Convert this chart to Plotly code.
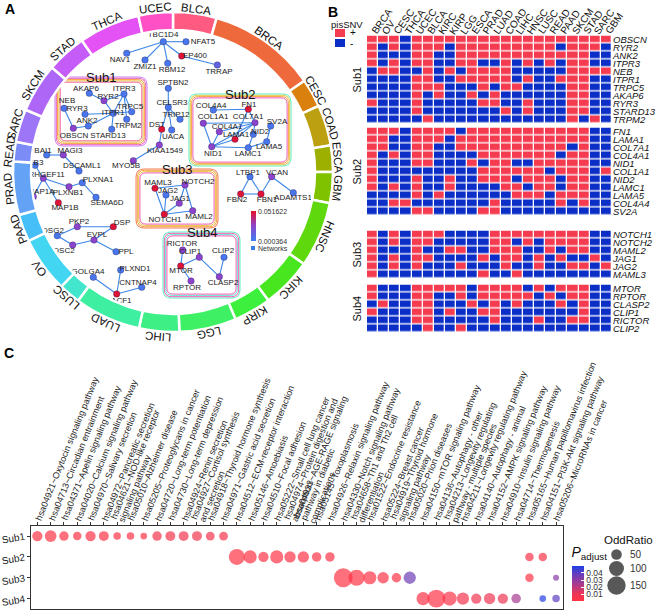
import math
import plotly.graph_objects as go

W, H = 658, 611
FONT = "Liberation Sans, Arial, sans-serif"

# ================= Panel A data =================
ring_cancers = ["BLCA", "BRCA", "CESC", "COAD", "ESCA", "GBM", "HNSC", "KIRC", "KIRP", "LGG", "LIHC",
                "LUAD", "LUSC", "OV", "PAAD", "PRAD", "READ", "SARC", "SKCM", "STAD", "THCA", "UCEC"]
ring_span = [15.8, 39.4, 10.4, 14.8, 9.6, 11.3, 23.8, 18.3, 13.6, 20.7, 14.6,
             24.1, 7.9, 20.2, 9.9, 19.4, 7.1, 12.0, 17.9, 14.5, 22.2, 12.5]
ring_colors = ["#FF5A82", "#EE6A3C", "#D9800E", "#BCA012", "#9DB000", "#7FC300", "#5FD80E", "#48E61E",
               "#3EF03E", "#3EF064", "#3EEF86", "#3EEFA2", "#42E6CC", "#42D6F2", "#46BEF8", "#64A2F6",
               "#7B8CF7", "#9C76F7", "#AE66F7", "#C65CF7", "#E452F6", "#FF50C6"]

node_names = ["TBC1D4", "NFAT5", "NAV1", "ZMIZ1", "RBM12", "EP400", "TRRAP",
              "AKAP6", "ITPR3", "RYR2", "NEB", "RYR3", "TRPC5", "ITPR1", "ANK2", "TRPM2", "OBSCN", "STARD13",
              "SPTBN2", "CELSR3", "TRIP12", "DST", "UACA", "KIAA1549", "MYO5B",
              "COL4A4", "FN1", "COL1A1", "COL7A1", "SV2A", "COL4A1", "NID2", "LAMA1", "LAMA5", "NID1", "LAMC1",
              "BAI1", "MAGI3", "PLXNB3", "DSCAML1", "ARHGEF11", "PLXNA1", "PLXNB1", "MAP1A", "MAP1B", "SEMA6D",
              "PKP2", "DSP", "DSG2", "EVPL", "DSC2", "PPL",
              "GOLGA4", "PLXND1", "CNTNAP4", "MACF1",
              "MAML3", "NOTCH2", "JAG2", "JAG1", "NOTCH1", "MAML2",
              "LTBP1", "VCAN", "FBN2", "FBN1", "ADAMTS1",
              "RICTOR", "CLIP1", "CLIP2", "MTOR", "CLASP2", "RPTOR"]
node_x = [163.3, 186.0, 126.7, 145.0, 167.7, 181.7, 217.3,
          89.3, 124.0, 104.0, 64.0, 85.0, 131.7, 113.3, 88.3, 126.7, 73.3, 111.7,
          168.3, 168.3, 180.0, 161.7, 171.7, 159.3, 133.3,
          213.3, 248.3, 203.3, 255.0, 270.7, 219.3, 253.3, 235.0, 266.7, 211.7, 248.3,
          46.7, 63.3, 35.0, 79.0, 43.3, 82.3, 69.0, 33.3, 58.3, 96.0,
          77.3, 113.3, 57.3, 94.0, 72.7, 116.0,
          93.3, 120.7, 141.7, 116.7,
          155.0, 185.0, 166.0, 179.3, 164.3, 192.7,
          250.0, 271.7, 240.7, 261.0, 293.3,
          182.7, 199.3, 224.0, 180.7, 219.3, 191.0]
node_y = [41.7, 41.7, 53.3, 60.0, 63.3, 56.0, 65.0,
          93.3, 94.0, 100.7, 108.3, 114.3, 111.7, 113.3, 126.0, 119.3, 128.3, 129.3,
          88.3, 107.3, 119.3, 129.3, 130.0, 145.0, 160.7,
          110.0, 109.3, 123.3, 122.7, 126.0, 131.7, 134.3, 139.3, 141.7, 146.7, 147.7,
          155.0, 155.0, 165.3, 171.0, 178.3, 182.7, 186.7, 196.7, 202.7, 197.3,
          226.7, 226.7, 235.7, 240.0, 245.0, 251.7,
          277.3, 270.0, 287.3, 294.0,
          188.3, 185.0, 195.0, 203.3, 214.3, 210.7,
          176.7, 176.7, 194.0, 194.0, 192.7,
          250.0, 257.3, 257.3, 266.0, 276.7, 281.0]
label_x = [163, 203, 120, 145, 172, 195, 219,
           86, 124, 108, 67, 77, 130, 113, 87, 128, 74, 108,
           173, 172, 176, 157, 173, 165, 126,
           211, 249, 213, 248, 277, 227, 260, 236, 269, 213, 248,
           43, 70, 28, 82, 44, 98, 68, 41, 65, 107,
           79, 122, 53, 97, 64, 126,
           88, 135, 138, 118,
           158, 198, 168, 180, 165, 199,
           248, 277, 237, 267, 293,
           182, 190, 223, 181, 223, 187]
label_y = [35, 42, 60, 67, 70, 56, 71.5,
           88.5, 88.5, 96.5, 101, 108.5, 107, 113, 120.5, 126, 136, 136,
           82.5, 103, 115, 125, 136.5, 150.5, 165.5,
           106, 104.5, 117, 117, 122, 127, 131.5, 135, 146.5, 153.5, 154,
           151, 151, 163, 166, 174.5, 180, 192.5, 192, 208, 203,
           221.5, 222.5, 230.5, 235, 251, 251.5,
           271.5, 269, 282.5, 300.5,
           182.5, 181.5, 191, 199, 220, 216.5,
           172.5, 172.5, 199.5, 199.5, 197.5,
           244, 251.5, 250.5, 270.5, 282.5, 287.5]
node_p = [0.004, 0.004, 0.004, 0.004, 0.004, 0.050, 0.012,
          0.004, 0.004, 0.026, 0.004, 0.004, 0.004, 0.004, 0.004, 0.004, 0.026, 0.004,
          0.004, 0.004, 0.004, 0.050, 0.004, 0.026, 0.026,
          0.004, 0.050, 0.026, 0.026, 0.004, 0.026, 0.004, 0.050, 0.004, 0.026, 0.004,
          0.004, 0.026, 0.004, 0.004, 0.026, 0.004, 0.026, 0.026, 0.050, 0.004,
          0.026, 0.050, 0.004, 0.026, 0.026, 0.004,
          0.004, 0.004, 0.004, 0.050,
          0.050, 0.026, 0.004, 0.026, 0.050, 0.026,
          0.004, 0.026, 0.050, 0.050, 0.004,
          0.026, 0.026, 0.004, 0.050, 0.026, 0.026]
edges = [("TBC1D4", "NFAT5"), ("TBC1D4", "NAV1"), ("TBC1D4", "ZMIZ1"), ("TBC1D4", "RBM12"),
         ("TBC1D4", "EP400"), ("EP400", "TRRAP"),
         ("AKAP6", "RYR2"), ("RYR2", "ITPR3"), ("RYR2", "ITPR1"), ("ITPR3", "TRPC5"), ("ITPR3", "TRPM2"),
         ("ITPR3", "ITPR1"), ("ITPR1", "RYR3"), ("ITPR1", "TRPC5"), ("ITPR1", "STARD13"), ("ITPR1", "ANK2"),
         ("NEB", "OBSCN"), ("OBSCN", "ANK2"),
         ("SPTBN2", "CELSR3"), ("CELSR3", "TRIP12"), ("CELSR3", "DST"), ("CELSR3", "UACA"),
         ("DST", "KIAA1549"), ("KIAA1549", "MYO5B"),
         ("COL4A4", "FN1"), ("FN1", "COL7A1"), ("FN1", "LAMA1"), ("COL1A1", "COL7A1"), ("COL1A1", "NID1"),
         ("COL4A1", "COL7A1"), ("COL7A1", "LAMA1"), ("COL7A1", "NID2"), ("COL7A1", "NID1"), ("LAMA1", "NID1"),
         ("NID2", "LAMC1"), ("LAMA5", "SV2A"), ("LAMA5", "LAMC1"), ("NID1", "LAMC1"), ("COL4A1", "NID1"),
         ("BAI1", "MAGI3"), ("MAGI3", "DSCAML1"), ("PLXNB3", "ARHGEF11"), ("ARHGEF11", "PLXNB1"),
         ("ARHGEF11", "MAP1A"), ("ARHGEF11", "MAP1B"), ("PLXNB1", "PLXNA1"), ("PLXNA1", "SEMA6D"),
         ("DSG2", "PKP2"), ("PKP2", "DSP"), ("DSG2", "DSC2"), ("DSC2", "EVPL"), ("EVPL", "DSP"), ("EVPL", "PPL"),
         ("GOLGA4", "MACF1"), ("PLXND1", "MACF1"), ("CNTNAP4", "MACF1"),
         ("MAML3", "NOTCH1"), ("MAML3", "NOTCH2"), ("NOTCH2", "JAG1"), ("NOTCH2", "MAML2"),
         ("JAG2", "NOTCH1"), ("JAG1", "NOTCH1"), ("NOTCH1", "MAML2"),
         ("LTBP1", "FBN2"), ("LTBP1", "FBN1"), ("FBN2", "FBN1"), ("VCAN", "FBN1"), ("VCAN", "ADAMTS1"),
         ("RICTOR", "MTOR"), ("MTOR", "CLIP1"), ("CLIP1", "CLASP2"), ("CLIP2", "CLASP2"), ("MTOR", "RPTOR")]

sub_names = ["Sub1", "Sub2", "Sub3", "Sub4"]

# ================= Panel B data =================
heat_cancers = ["BRCA", "OV", "CESC", "THCA", "UCEC", "BLCA", "KIRC", "KIRP", "LGG", "ESCA", "PRAD",
                "LUAD", "COAD", "LIHC", "HNSC", "LUSC", "READ", "PAAD", "SKCM", "STAD", "SARC", "GBM"]
sub1_genes = ["OBSCN", "RYR2", "ANK2", "ITPR3", "NEB", "ITPR1", "TRPC5", "AKAP6", "RYR3", "STARD13", "TRPM2"]
sub1_snv = [
    [1, 1, 1, 0, 1, 1, 1, 1, 1, 1, 1, 1, 1, 1, 1, 1, 1, 1, 1, 1, 1, 1],
    [1, 0, 1, 0, 1, 1, 1, 0, 1, 1, 1, 1, 1, 1, 1, 1, 1, 0, 1, 1, 1, 0],
    [1, 0, 0, 0, 1, 1, 0, 0, 1, 1, 1, 1, 1, 1, 1, 1, 1, 1, 1, 1, 0, 0],
    [1, 0, 1, 0, 1, 1, 0, 0, 1, 1, 0, 0, 1, 0, 1, 0, 1, 0, 1, 1, 0, 0],
    [0, 1, 1, 0, 0, 1, 0, 1, 0, 1, 1, 1, 1, 0, 0, 0, 0, 0, 1, 1, 1, 1],
    [0, 0, 0, 0, 1, 1, 0, 0, 1, 1, 1, 1, 1, 0, 1, 0, 0, 1, 1, 1, 0, 0],
    [0, 0, 0, 0, 1, 1, 1, 0, 0, 0, 1, 0, 1, 1, 0, 0, 0, 0, 1, 1, 0, 0],
    [0, 0, 0, 0, 1, 0, 1, 0, 0, 1, 0, 1, 0, 0, 0, 0, 0, 0, 1, 1, 0, 0],
    [1, 0, 0, 0, 1, 0, 0, 0, 0, 0, 1, 1, 0, 0, 1, 0, 0, 0, 1, 1, 0, 0],
    [0, 0, 0, 0, 1, 0, 0, 0, 0, 0, 0, 0, 1, 0, 1, 0, 0, 0, 1, 1, 0, 0],
    [0, 0, 0, 0, 0, 1, 0, 0, 0, 0, 0, 0, 0, 0, 0, 0, 0, 0, 1, 0, 1, 0]]
sub2_genes = ["FN1", "LAMA1", "COL7A1", "COL4A1", "NID1", "COL1A1", "NID2", "LAMC1", "LAMA5", "COL4A4", "SV2A"]
sub2_snv = [
    [1, 1, 1, 0, 1, 1, 1, 1, 0, 1, 1, 1, 1, 1, 1, 1, 1, 1, 1, 1, 0, 0],
    [1, 1, 0, 0, 1, 1, 1, 0, 1, 1, 1, 1, 1, 1, 1, 1, 1, 1, 1, 1, 0, 0],
    [1, 1, 0, 0, 1, 1, 0, 0, 1, 1, 1, 1, 1, 1, 1, 1, 1, 1, 0, 1, 0, 0],
    [1, 0, 1, 0, 1, 1, 0, 0, 0, 0, 1, 1, 1, 1, 1, 1, 1, 0, 1, 1, 0, 0],
    [1, 0, 0, 0, 1, 1, 0, 0, 0, 1, 0, 1, 1, 0, 0, 1, 1, 1, 1, 1, 0, 0],
    [1, 0, 0, 0, 0, 0, 0, 0, 0, 0, 1, 1, 1, 1, 1, 1, 0, 1, 1, 1, 0, 1],
    [1, 0, 0, 0, 1, 0, 0, 1, 0, 0, 1, 1, 1, 0, 1, 1, 1, 0, 1, 1, 0, 0],
    [1, 0, 1, 0, 1, 0, 0, 1, 0, 0, 0, 0, 1, 1, 0, 1, 1, 0, 1, 1, 0, 0],
    [0, 0, 0, 0, 1, 0, 1, 0, 0, 0, 0, 0, 0, 1, 1, 1, 0, 1, 1, 1, 0, 0],
    [0, 0, 1, 1, 0, 0, 0, 0, 0, 0, 0, 1, 0, 0, 0, 0, 0, 1, 0, 1, 0, 0],
    [0, 0, 0, 0, 1, 1, 0, 0, 0, 0, 1, 1, 0, 0, 0, 0, 0, 0, 0, 0, 0, 0]]
sub3_genes = ["NOTCH1", "NOTCH2", "MAML2", "JAG1", "JAG2", "MAML3"]
sub3_snv = [
    [1, 0, 1, 0, 1, 1, 1, 0, 0, 0, 0, 1, 1, 1, 1, 1, 1, 1, 1, 1, 0, 0],
    [1, 0, 1, 0, 1, 1, 0, 0, 0, 0, 0, 1, 1, 0, 1, 0, 1, 1, 1, 1, 0, 0],
    [1, 0, 0, 0, 1, 0, 0, 1, 1, 0, 0, 1, 1, 1, 0, 0, 1, 0, 1, 1, 0, 0],
    [1, 0, 1, 0, 1, 1, 0, 0, 0, 0, 1, 0, 1, 1, 0, 1, 0, 1, 0, 0, 1, 0],
    [1, 0, 1, 0, 1, 0, 0, 0, 1, 0, 0, 0, 1, 0, 0, 1, 0, 0, 1, 1, 0, 1],
    [1, 0, 0, 0, 0, 0, 0, 0, 0, 0, 1, 0, 0, 1, 0, 0, 0, 0, 0, 0, 0, 0]]
sub4_genes = ["MTOR", "RPTOR", "CLASP2", "CLIP1", "RICTOR", "CLIP2"]
sub4_snv = [
    [1, 0, 0, 0, 1, 1, 1, 1, 1, 0, 1, 1, 1, 1, 0, 1, 0, 1, 1, 1, 0, 0],
    [1, 0, 0, 0, 1, 1, 0, 0, 1, 0, 1, 1, 1, 1, 1, 0, 1, 0, 1, 1, 0, 0],
    [0, 1, 0, 0, 1, 1, 0, 0, 0, 1, 0, 1, 0, 1, 0, 0, 0, 1, 0, 1, 0, 0],
    [1, 0, 0, 0, 1, 1, 0, 1, 0, 0, 1, 1, 0, 0, 0, 0, 0, 0, 0, 1, 0, 0],
    [0, 0, 0, 0, 1, 1, 0, 0, 0, 0, 0, 1, 0, 0, 0, 1, 0, 0, 1, 1, 0, 0],
    [0, 0, 0, 0, 0, 1, 0, 0, 1, 0, 0, 0, 0, 0, 0, 0, 0, 0, 0, 0, 0, 0]]

# ================= Panel C data =================
pathways = ["hsa04921~Oxytocin signaling pathway", "hsa04713~Circadian entrainment",
            "hsa04371~Apelin signaling pathway", "hsa04020~Calcium signaling pathway",
            "hsa04970~Salivary secretion", "hsa04972~Pancreatic secretion",
            "hsa04621~NOD-like receptor<br>signaling pathway", "hsa05010~Alzheimer disease",
            "hsa05205~Proteoglycans in cancer", "hsa04720~Long-term potentiation",
            "hsa04730~Long-term depression", "hsa04924~Renin secretion",
            "hsa04927~Cortisol synthesis<br>and secretion", "hsa04918~Thyroid hormone synthesis",
            "hsa04971~Gastric acid secretion", "hsa04512~ECM-receptor interaction",
            "hsa05146~Amoebiasis", "hsa04510~Focal adhesion", "hsa05222~Small cell lung cancer",
            "hsa04974~Protein digestion and<br>absorption",
            "hsa04933~AGE-RAGE signaling<br>pathway in diabetic<br>complications",
            "hsa05145~Toxoplasmosis", "hsa04926~Relaxin signaling pathway",
            "hsa04330~Notch signaling pathway", "hsa04658~Th1 and Th2 cell<br>differentiation",
            "hsa01522~Endocrine resistance", "hsa05224~Breast cancer",
            "hsa04919~Thyroid hormone<br>signaling pathway", "hsa05020~Prion diseases",
            "hsa04150~mTOR signaling pathway", "hsa04136~Autophagy - other",
            "hsa04213~Longevity regulating<br>pathway - multiple species",
            "hsa04211~Longevity regulating pathway", "hsa04140~Autophagy - animal",
            "hsa04152~AMPK signaling pathway", "hsa04910~Insulin signaling pathway",
            "hsa04714~Thermogenesis", "hsa05165~Human papillomavirus infection",
            "hsa04151~PI3K-Akt signaling pathway", "hsa05206~MicroRNAs in cancer"]
c_sub1_idx = [0, 1, 2, 3, 4, 5, 6, 7, 8, 9, 10, 11, 12, 13, 14]
c_sub1_or = [47, 61, 40, 32, 47, 44, 25, 25, 20, 40, 44, 44, 44, 35, 35]
c_sub1_p = [0.0008, 0.0008, 0.001, 0.001, 0.001, 0.0012, 0.0015, 0.0015, 0.0015,
            0.0055, 0.006, 0.0065, 0.0065, 0.006, 0.006]
c_sub2_idx = [15, 16, 17, 18, 19, 20, 21, 22, 37, 38]
c_sub2_or = [114, 77, 47, 77, 57, 57, 40, 40, 32, 32]
c_sub2_p = [0.0006, 0.0008, 0.001, 0.001, 0.001, 0.0012, 0.0015, 0.0015, 0.0015, 0.0015]
c_sub3_idx = [23, 24, 25, 26, 27, 28, 37, 39]
c_sub3_or = [157, 114, 77, 57, 40, 67, 32, 10]
c_sub3_p = [0.0005, 0.0008, 0.001, 0.0015, 0.002, 0.036, 0.002, 0.030]
c_sub4_idx = [29, 30, 31, 32, 33, 34, 35, 36, 38, 39]
c_sub4_or = [77, 143, 89, 67, 47, 57, 47, 40, 20, 25]
c_sub4_p = [0.002, 0.001, 0.003, 0.006, 0.008, 0.008, 0.0085, 0.024, 0.048, 0.039]
size_legend_vals = [50, 100, 150]

# ================= helpers =================
def py(p):
    return 1 - p / H

def rrect(x0, y0, x1, y1, r):
    return (f"M{x0 + r},{y0} L{x1 - r},{y0} Q{x1},{y0} {x1},{y0 + r} L{x1},{y1 - r} "
            f"Q{x1},{y1} {x1 - r},{y1} L{x0 + r},{y1} Q{x0},{y1} {x0},{y1 - r} "
            f"L{x0},{y0 + r} Q{x0},{y0} {x0 + r},{y0} Z")

fig = go.Figure()
annotations = []
shapes = []

# ---------- Panel A: ring ----------
theta_c = []
acc = 0.0
for s in ring_span:
    theta_c.append(acc + s / 2)
    acc += s
fig.add_trace(go.Barpolar(theta=theta_c, width=ring_span, r=[18] * len(ring_span),
                          base=[142] * len(ring_span), subplot="polar",
                          marker=dict(color=ring_colors, line=dict(color="white", width=2.5)),
                          hoverinfo="skip", showlegend=False))
CX, CY, RL = 173, 172, 165
for name, tc in zip(ring_cancers, theta_c):
    rad = math.radians(tc)
    annotations.append(dict(x=CX + RL * math.sin(rad), y=CY - RL * math.cos(rad), xref="x", yref="y",
                            text=name, textangle=(tc if tc <= 180 else tc - 360), showarrow=False,
                            font=dict(size=11.5, color="#111", family=FONT), xanchor="center", yanchor="middle"))

# ---------- Panel A: sub boxes ----------
box_defs = [("Sub1", (55, 77, 147, 146), ["#C77DF3", "#F15BB5", "#F4A340", "#E8C547", "#F0649B"]),
            ("Sub2", (189, 94, 291, 166), ["#56F0C0", "#E8C547", "#F4A340", "#F15BB5"]),
            ("Sub3", (136, 169, 218, 228), ["#F07850", "#F4A340", "#E8C547", "#F15BB5"]),
            ("Sub4", (163, 232, 240, 298), ["#56F0C0", "#F15BB5", "#66E8D0", "#F15BB5"])]
for title, (x0, y0, x1, y1), cols in box_defs:
    for k, c in enumerate(cols):
        d = k * 1.3
        shapes.append(dict(type="path", path=rrect(x0 + d, y0 + d, x1 - d, y1 - d, 8 - d * 0.5),
                           xref="x", yref="y", line=dict(color=c, width=1), layer="below"))
    annotations.append(dict(x=(x0 + x1) / 2, y=y0 + 0.5, xref="x", yref="y", text=title, showarrow=False,
                            font=dict(size=13, color="#111", family=FONT), xanchor="center", yanchor="middle"))

# ---------- Panel A: network ----------
pos = {n: (x, y) for n, x, y in zip(node_names, node_x, node_y)}
ex, ey = [], []
for a, b in edges:
    ex += [pos[a][0], pos[b][0], None]
    ey += [pos[a][1], pos[b][1], None]
fig.add_trace(go.Scatter(x=ex, y=ey, mode="lines", line=dict(color="#3C86E6", width=1.1),
                         xaxis="x", yaxis="y", hoverinfo="skip", showlegend=False))
node_scale = [[0, "#3F7EF2"], [0.5, "#8C44CC"], [1, "#E5102C"]]
fig.add_trace(go.Scatter(x=node_x, y=node_y, mode="markers", xaxis="x", yaxis="y", hoverinfo="skip",
                         showlegend=False,
                         marker=dict(size=6.5, color=node_p, colorscale=node_scale, cmin=0.000364,
                                     cmax=0.051622, line=dict(color="rgba(30,30,80,0.55)", width=0.6),
                                     colorbar=dict(x=251.5 / W, xanchor="left", y=py(226.5), yanchor="middle",
                                                   lenmode="pixels", len=30, thickness=5, xpad=0, ypad=0,
                                                   outlinewidth=0, ticks="", tickvals=[0.000364, 0.051622],
                                                   ticktext=["0.000364", "0.051622"],
                                                   tickfont=dict(size=7, color="#333", family=FONT)))))
fig.add_trace(go.Scatter(x=label_x, y=label_y, mode="text", text=node_names, xaxis="x", yaxis="y",
                         textfont=dict(size=8, color="#222", family=FONT), hoverinfo="skip", showlegend=False))
shapes.append(dict(type="rect", x0=251, x1=255, y0=246, y1=250, xref="x", yref="y",
                   fillcolor="#3A7BE8", line=dict(width=0)))
annotations.append(dict(x=256, y=248, xref="x", yref="y", text="Networks", showarrow=False, xanchor="left",
                        yanchor="middle", font=dict(size=7, color="#333", family=FONT)))

# ---------- Panel B: heatmaps ----------
heat_scale = [[0, "#0B2EC7"], [0.5, "#0B2EC7"], [0.5, "#F53B50"], [1, "#F53B50"]]
heat_sets = [(sub1_genes, sub1_snv, (35.5, 123.5)), (sub2_genes, sub2_snv, (127.5, 215.5)),
             (sub3_genes, sub3_snv, (230.5, 278.5)), (sub4_genes, sub4_snv, (284.5, 332.5))]
for i, (genes, mat, (t, b)) in enumerate(heat_sets):
    yname = "y" + str(i + 2)
    fig.add_trace(go.Heatmap(z=mat, x=heat_cancers, y=genes, xaxis="x2", yaxis=yname, colorscale=heat_scale,
                             zmin=0, zmax=1, showscale=False, xgap=1.3, ygap=1.3, hoverinfo="skip"))
    fig.layout["yaxis" + str(i + 2)] = dict(domain=[py(b), py(t)], anchor="x2", side="right",
                                            autorange="reversed", showgrid=False, zeroline=False, ticks="",
                                            automargin=False, tickmode="array", tickvals=genes, ticktext=genes,
                                            tickfont=dict(size=9.5, color="#111", family=FONT, style="italic"))
    annotations.append(dict(x=356, y=(t + b) / 2, xref="x", yref="y", text=sub_names[i], textangle=-90,
                            showarrow=False, font=dict(size=11, color="#111", family=FONT)))

annotations.append(dict(x=329, y=24, xref="x", yref="y", text="pisSNV", showarrow=False, xanchor="left",
                        font=dict(size=9.5, color="#111", family=FONT)))
shapes.append(dict(type="rect", x0=335, x1=345, y0=29, y1=37, xref="x", yref="y",
                   fillcolor="#F53B50", line=dict(width=0)))
shapes.append(dict(type="rect", x0=335, x1=345, y0=39, y1=47, xref="x", yref="y",
                   fillcolor="#0B2EC7", line=dict(width=0)))
annotations.append(dict(x=348, y=32, xref="x", yref="y", text="+", showarrow=False, xanchor="left",
                        font=dict(size=10, color="#111", family=FONT)))
annotations.append(dict(x=348, y=43, xref="x", yref="y", text="-", showarrow=False, xanchor="left",
                        font=dict(size=10, color="#111", family=FONT)))

# ---------- Panel C: dot plot ----------
dot_x, dot_y, dot_or, dot_p = [], [], [], []
for sname, idx, ors, ps in [("Sub1", c_sub1_idx, c_sub1_or, c_sub1_p), ("Sub2", c_sub2_idx, c_sub2_or, c_sub2_p),
                            ("Sub3", c_sub3_idx, c_sub3_or, c_sub3_p), ("Sub4", c_sub4_idx, c_sub4_or, c_sub4_p)]:
    for j, o, p in zip(idx, ors, ps):
        dot_x.append(pathways[j])
        dot_y.append(sname)
        dot_or.append(o)
        dot_p.append(p)
SIZEREF = 0.89
p_scale = [[0, "#FF3344"], [0.2, "#EE3656"], [0.5, "#A33A92"], [0.75, "#6A3DBA"], [1, "#1F40E6"]]
fig.add_trace(go.Scatter(x=dot_x, y=dot_y, mode="markers", xaxis="x3", yaxis="y6", hoverinfo="skip",
                         showlegend=False,
                         marker=dict(size=dot_or, sizemode="area", sizeref=SIZEREF, sizemin=3, color=dot_p,
                                     colorscale=p_scale, cmin=0, cmax=0.049, line=dict(width=0),
                                     colorbar=dict(x=571.5 / W, xanchor="left", y=py(572.5), yanchor="middle",
                                                   lenmode="pixels", len=58, thickness=12, xpad=0, ypad=0,
                                                   outlinewidth=0, tickvals=[0.01, 0.02, 0.03, 0.04],
                                                   ticks="inside", tickcolor="white", ticklen=3,
                                                   tickfont=dict(size=8.5, color="#333", family=FONT),
                                                   title=dict(text="<i>P</i><sub>adjust</sub>", side="top",
                                                              font=dict(size=14, color="#111", family=FONT))))))
# rotated category labels above panel C (one annotation per line, tight line spacing)
C_TOP = 525.7
ANG = 68.0
LH1 = 11.5     # rendered height of one annotation line
LS = 8.6       # spacing between wrapped lines
ca, sa = math.cos(math.radians(ANG)), math.sin(math.radians(ANG))
for i, lab in enumerate(pathways):
    parts = lab.split("<br>")
    n = len(parts)
    for k, part in enumerate(parts):
        off = (k - (n - 1) / 2) * LS
        annotations.append(dict(x=i, y=py(C_TOP - 4.5), xref="x3", yref="paper", text=part, textangle=-ANG,
                                showarrow=False, xanchor="left", yanchor="bottom", borderpad=0,
                                xshift=-sa * LH1 / 2 + off * sa, yshift=-ca * LH1 / 2 - off * ca,
                                font=dict(size=9, color="#222", family=FONT)))
# rotated column labels above panel B heatmap
B_TOP = 35.5
ANGB = 55.0
LHB = 12.0
cb, sb = math.cos(math.radians(ANGB)), math.sin(math.radians(ANGB))
for i, lab in enumerate(heat_cancers):
    annotations.append(dict(x=i, y=py(B_TOP - 1.5), xref="x2", yref="paper", text=lab, textangle=-ANGB,
                            showarrow=False, xanchor="left", yanchor="bottom", borderpad=0,
                            xshift=-sb * LHB / 2, yshift=-cb * LHB / 2,
                            font=dict(size=10, color="#111", family=FONT)))
# size legend
leg_y = [554.5, 568.5, 585.5]
fig.add_trace(go.Scatter(x=[616.5] * 3, y=leg_y, mode="markers", xaxis="x", yaxis="y", hoverinfo="skip",
                         showlegend=False,
                         marker=dict(size=size_legend_vals, sizemode="area", sizeref=SIZEREF, color="#111",
                                     line=dict(width=0))))
for v, yy in zip(size_legend_vals, leg_y):
    annotations.append(dict(x=628, y=yy, xref="x", yref="y", text=str(v), showarrow=False, xanchor="left",
                            font=dict(size=10, color="#333", family=FONT)))
annotations.append(dict(x=628, y=540, xref="x", yref="y", text="OddRatio", showarrow=False,
                        font=dict(size=11.5, color="#111", family=FONT)))

# panel letters
for t, xx, yy in [("A", 10, 9), ("B", 333, 12), ("C", 9, 353)]:
    annotations.append(dict(x=xx, y=yy, xref="x", yref="y", text="<b>" + t + "</b>", showarrow=False,
                            font=dict(size=14, color="#000", family=FONT)))

fig.update_layout(
    width=W, height=H, margin=dict(l=0, r=0, t=0, b=0, autoexpand=False), paper_bgcolor="white",
    plot_bgcolor="rgba(0,0,0,0)", showlegend=False, font=dict(family=FONT),
    xaxis=dict(domain=[0, 1], range=[0, W], visible=False, fixedrange=True, automargin=False),
    yaxis=dict(domain=[0, 1], range=[H, 0], visible=False, fixedrange=True, automargin=False),
    xaxis2=dict(domain=[367 / W, 612 / W], anchor="y2", side="top", showgrid=False, showticklabels=False,
                zeroline=False, ticks="", categoryorder="array", categoryarray=heat_cancers, automargin=False,
                range=[-0.5, 21.5]),
    xaxis3=dict(domain=[30.7 / W, 562.7 / W], anchor="y6", side="top", showgrid=False, showticklabels=False,
                zeroline=False, ticks="outside", ticklen=3, tickcolor="#333", showline=True, mirror=True,
                linecolor="#333", linewidth=1, categoryorder="array", categoryarray=pathways,
                tickmode="array", tickvals=pathways, range=[-0.5, 39.5], automargin=False),
    yaxis6=dict(domain=[py(609), py(525.7)], anchor="x3", showgrid=False, zeroline=False, ticks="outside",
                ticklen=3, tickcolor="#333", showline=True, mirror=True, linecolor="#333", linewidth=1,
                categoryorder="array", categoryarray=sub_names, range=[3.5, -0.5], tickangle=-10,
                automargin=False, tickfont=dict(size=10, color="#222", family=FONT)),
    polar=dict(domain=dict(x=[1 / W, 345 / W], y=[py(344), 1]), bgcolor="rgba(0,0,0,0)", hole=0,
               radialaxis=dict(visible=False, range=[0, 172]),
               angularaxis=dict(visible=False, rotation=90, direction="clockwise")),
    annotations=annotations, shapes=shapes,
)

fig.write_html("out.html", config={"displayModeBar": False, "staticPlot": True},
               post_script="document.body.style.margin='0px';document.body.style.overflow='hidden';")
